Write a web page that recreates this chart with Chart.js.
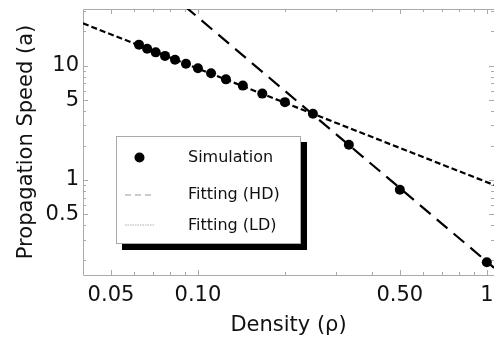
<!DOCTYPE html>
<html>
<head>
<meta charset="utf-8">
<script src="https://cdn.jsdelivr.net/npm/chart.js@4.4.1/dist/chart.umd.min.js"></script>
<style>
  html, body { margin: 0; padding: 0; background: #fff; }
  #wrap { position: relative; width: 499px; height: 344px; overflow: hidden; }
  #legend {
    position: absolute; left: 116px; top: 136px; width: 183px; height: 106px;
    background: #fff; border: 1px solid #aaa; box-shadow: 6px 6px 0 0 #000;
    font-family: "DejaVu Sans", sans-serif; font-size: 16px; color: #111;
  }
  #legend .key { position: absolute; left: 0; }
  #legend .label { position: absolute; left: 71px; line-height: 20px; white-space: nowrap; }
</style>
</head>
<body>
<div id="wrap">
  <canvas id="chart" width="499" height="344"></canvas>
  <div id="legend">
    <svg class="key" style="top:0" width="60" height="106">
      <circle cx="22.5" cy="20.5" r="5" fill="#000"></circle>
      <line x1="8" y1="58" x2="37" y2="58" stroke="#999" stroke-width="1.2" stroke-dasharray="6,4"></line>
      <line x1="8" y1="88" x2="37" y2="88" stroke="#999" stroke-width="0.8" stroke-dasharray="1.5,1"></line>
    </svg>
    <div class="label" style="top:10px">Simulation</div>
    <div class="label" style="top:47px">Fitting (HD)</div>
    <div class="label" style="top:78px">Fitting (LD)</div>
  </div>
</div>
<script>
// simulation results
const densities = [0.0625, 0.0667, 0.0714, 0.0769, 0.0833, 0.0909, 0.1, 0.111, 0.125, 0.143, 0.167, 0.2, 0.25, 0.333, 0.5, 1];
const speeds = [15.3, 14.1, 13.1, 12.2, 11.3, 10.4, 9.5, 8.6, 7.6, 6.7, 5.7, 4.8, 3.8, 2.03, 0.82, 0.19];

// fitted power laws (end points)
const hdDensity = [0.09, 1.06];
const hdSpeed = [33.2, 0.17];
const ldDensity = [0.04, 1.06];
const ldSpeed = [23.5, 0.903];

// axes
const xRange = [0.04, 1.059];
const yRange = [0.147, 31.4];
const xTickValues = [0.05, 0.1, 0.5, 1];
const xTickLabels = ['0.05', '0.10', '0.50', '1'];
const yTickValues = [0.5, 1, 5, 10];
const yTickLabels = ['0.5', '1', '5', '10'];
const xMinorTicks = [0.06, 0.07, 0.08, 0.09, 0.2, 0.3, 0.4, 0.6, 0.7, 0.8, 0.9];
const yMinorTicks = [0.2, 0.3, 0.4, 0.6, 0.7, 0.8, 0.9, 2, 3, 4, 6, 7, 8, 9, 20, 30];

const fontFamily = '"DejaVu Sans", sans-serif';

function toPoints(xs, ys) {
    return xs.map((x, i) => ({ x: x, y: ys[i] }));
}

// Mathematica style frame with inward ticks
const framePlugin = {
    id: 'frame',
    beforeDatasetsDraw(chart) {
        const { ctx, chartArea: a, scales } = chart;
        ctx.save();
        ctx.strokeStyle = '#aaa';
        ctx.lineWidth = 1;
        ctx.beginPath();
        ctx.moveTo(a.right, a.top + 0.5);
        ctx.lineTo(a.left + 0.5, a.top + 0.5);
        ctx.lineTo(a.left + 0.5, a.bottom + 0.5);
        ctx.lineTo(a.right, a.bottom + 0.5);

        const xTick = (v, len) => {
            const px = Math.round(scales.x.getPixelForValue(v)) + 0.5;
            ctx.moveTo(px, a.bottom);
            ctx.lineTo(px, a.bottom - len);
            ctx.moveTo(px, a.top);
            ctx.lineTo(px, a.top + len);
        };
        const yTick = (v, len) => {
            const py = Math.round(scales.y.getPixelForValue(v)) + 0.5;
            ctx.moveTo(a.left, py);
            ctx.lineTo(a.left + len, py);
            ctx.moveTo(a.right, py);
            ctx.lineTo(a.right - len, py);
        };
        xTickValues.forEach(v => xTick(v, 5));
        xMinorTicks.forEach(v => xTick(v, 3));
        yTickValues.forEach(v => yTick(v, 5));
        yMinorTicks.forEach(v => yTick(v, 3));
        ctx.stroke();
        ctx.restore();
    }
};

new Chart(document.getElementById('chart').getContext('2d'), {
    type: 'scatter',
    data: {
        datasets: [
            {
                label: 'Simulation',
                data: toPoints(densities, speeds),
                backgroundColor: '#000',
                borderWidth: 0,
                pointRadius: 5,
                order: 0
            },
            {
                label: 'Fitting (HD)',
                data: toPoints(hdDensity, hdSpeed),
                showLine: true,
                borderColor: '#000',
                borderWidth: 2.2,
                borderDash: [14, 8],
                pointRadius: 0,
                order: 1
            },
            {
                label: 'Fitting (LD)',
                data: toPoints(ldDensity, ldSpeed),
                showLine: true,
                borderColor: '#000',
                borderWidth: 2.2,
                borderDash: [6, 3],
                pointRadius: 0,
                order: 2
            }
        ]
    },
    options: {
        responsive: false,
        animation: false,
        devicePixelRatio: 1,
        layout: { padding: { top: 9, right: 0, left: 0, bottom: 0 } },
        plugins: {
            legend: { display: false },
            tooltip: { enabled: false }
        },
        scales: {
            x: {
                type: 'logarithmic',
                min: xRange[0],
                max: xRange[1],
                grid: { display: false, drawTicks: false },
                border: { display: false },
                afterBuildTicks: scale => {
                    scale.ticks = xTickValues.map(v => ({ value: v }));
                },
                afterFit: scale => {
                    scale.height = 69;
                    scale.paddingLeft = 0;
                    scale.paddingRight = 0;
                },
                ticks: {
                    autoSkip: false,
                    maxRotation: 0,
                    padding: 8,
                    color: '#111',
                    font: { family: fontFamily, size: 21 },
                    callback: (value, index) => xTickLabels[index]
                },
                title: {
                    display: true,
                    text: 'Density (ρ)',
                    color: '#111',
                    font: { family: fontFamily, size: 21 },
                    padding: { top: 0, bottom: 6 }
                }
            },
            y: {
                type: 'logarithmic',
                min: yRange[0],
                max: yRange[1],
                grid: { display: false, drawTicks: false },
                border: { display: false },
                afterBuildTicks: scale => {
                    scale.ticks = yTickValues.map(v => ({ value: v }));
                },
                afterFit: scale => {
                    scale.width = 83;
                    scale.paddingTop = 0;
                    scale.paddingBottom = 0;
                },
                ticks: {
                    autoSkip: false,
                    padding: 4,
                    color: '#111',
                    font: { family: fontFamily, size: 21 },
                    callback: (value, index) => yTickLabels[index]
                },
                title: {
                    display: true,
                    text: 'Propagation Speed (a)',
                    color: '#111',
                    font: { family: fontFamily, size: 21 },
                    padding: { top: 14, bottom: 0 }
                }
            }
        }
    },
    plugins: [framePlugin]
});
</script>
</body>
</html>
